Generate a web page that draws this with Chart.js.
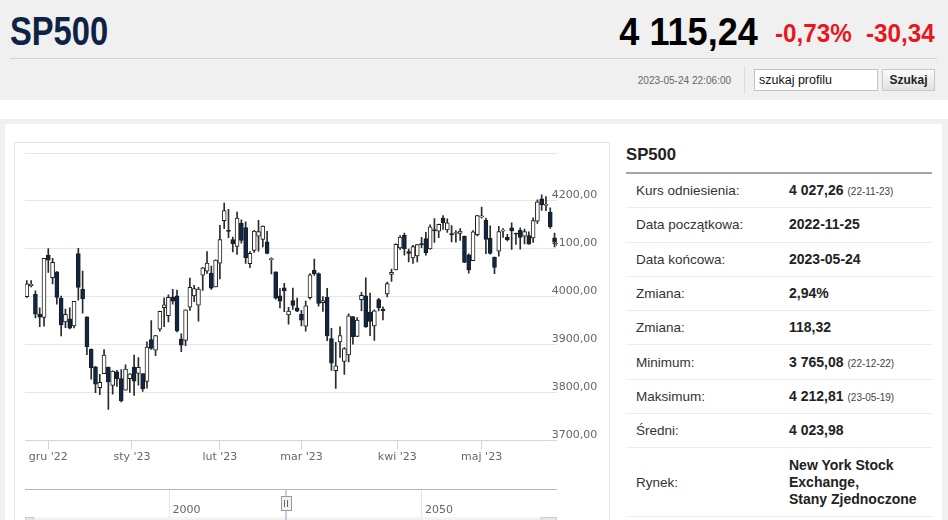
<!DOCTYPE html>
<html lang="pl">
<head>
<meta charset="utf-8">
<title>SP500</title>
<script src="https://cdn.jsdelivr.net/npm/chart.js@4.4.0/dist/chart.umd.min.js"></script>
<style>
  html, body { margin: 0; padding: 0; }
  body { width: 948px; height: 520px; overflow: hidden; position: relative; background: #fff;
         font-family: "Liberation Sans", Arial, sans-serif; }
  .abs { position: absolute; white-space: nowrap; }
  #top { left: 0; top: 0; width: 948px; height: 100px; background: #f0f0f0; }
  #name { left: 10px; top: 11px; font: bold 40px/40px "Liberation Sans", sans-serif; color: #0e2244;
          transform: scaleX(0.817); transform-origin: left center; }
  #last { right: 190px; top: 13px; font: bold 38px/38px "Liberation Sans", sans-serif; color: #000;
          transform: scaleX(0.95); transform-origin: right center; }
  .chg { top: 21px; font: bold 25px/25px "Liberation Sans", sans-serif; color: #e8171f;
         transform: scaleX(0.97); transform-origin: left center; }
  #hr { left: 10px; top: 58px; width: 927px; height: 1px; background: #d2d2d2; }
  #stamp { right: 217px; top: 74px; font: 11px/12px "Liberation Sans", sans-serif; color: #666;
           transform: scaleX(0.915); transform-origin: right center; }
  #vsep { left: 744px; top: 66px; width: 1px; height: 28px; background: #dadada; }
  #search { left: 754px; top: 69px; width: 124px; height: 22px; box-sizing: border-box; background: #fff;
            border: 1px solid #c4c4c4; font: 12.5px/20px "Liberation Sans", sans-serif; color: #111; padding-left: 4px; }
  #btn { left: 882px; top: 69px; width: 53px; height: 22px; box-sizing: border-box; border: 1px solid #c8c8c8;
         background: linear-gradient(#fbfbfb, #e2e2e2); font: bold 12px/20px "Liberation Sans", sans-serif;
         color: #222; text-align: center; }
  #frame { left: 0; top: 119px; width: 948px; height: 401px; background: #f0f0f0; }
  #panel { left: 5px; top: 124px; width: 937px; height: 396px; background: #fff; }
  #box { left: 14px; top: 142px; width: 596px; height: 390px; box-sizing: border-box; border: 1px solid #e4e4e4; }
  #c { position: absolute; left: 15px; top: 143px; }
  #info { left: 626px; top: 140px; width: 306px; }
  #info h2 { margin: 0; height: 32px; font: bold 16.7px/30px "Liberation Sans", sans-serif; color: #222;
             border-bottom: 2px solid #a4a4a4; }
  #info table { border-collapse: collapse; width: 306px; }
  #info td { height: 33.3px; padding: 0; border-bottom: 1px solid #ececec; vertical-align: middle; }
  #info td.k { width: 153px; padding-left: 10px; font: 13.5px "Liberation Sans", sans-serif; color: #333; }
  #info td.v { font: bold 14px "Liberation Sans", sans-serif; color: #222; line-height: 17px; }
  #info td.v small { font: normal 10px "Liberation Sans", sans-serif; color: #444; margin-left: 4px; }
  #info tr.tall td { height: 68px; }
</style>
</head>
<body>
<div id="top" class="abs"></div>
<div id="name" class="abs">SP500</div>
<div id="last" class="abs">4 115,24</div>
<div class="abs chg" style="left:775px">-0,73%</div>
<div class="abs chg" style="left:866px">-30,34</div>
<div id="hr" class="abs"></div>
<div id="stamp" class="abs">2023-05-24 22:06:00</div>
<div id="vsep" class="abs"></div>
<div id="search" class="abs">szukaj profilu</div>
<div id="btn" class="abs">Szukaj</div>

<div id="frame" class="abs"></div>
<div id="panel" class="abs"></div>
<div id="box" class="abs"></div>
<canvas id="c" width="595" height="377"></canvas>

<div id="info" class="abs">
  <h2>SP500</h2>
  <table>
    <tr><td class="k">Kurs odniesienia:</td><td class="v">4 027,26<small>(22-11-23)</small></td></tr>
    <tr><td class="k">Data początkowa:</td><td class="v">2022-11-25</td></tr>
    <tr><td class="k">Data końcowa:</td><td class="v">2023-05-24</td></tr>
    <tr><td class="k">Zmiana:</td><td class="v">2,94%</td></tr>
    <tr><td class="k">Zmiana:</td><td class="v">118,32</td></tr>
    <tr><td class="k">Minimum:</td><td class="v">3 765,08<small>(22-12-22)</small></td></tr>
    <tr><td class="k">Maksimum:</td><td class="v">4 212,81<small>(23-05-19)</small></td></tr>
    <tr><td class="k">Średni:</td><td class="v">4 023,98</td></tr>
    <tr class="tall"><td class="k">Rynek:</td><td class="v">New York Stock<br>Exchange,<br>Stany Zjednoczone</td></tr>
  </table>
</div>

<script>
// daily candles, SP500 (one session, 2022-12-07, is absent from the feed)
const dates = [
  '2022-11-23','2022-11-25','2022-11-28','2022-11-29','2022-11-30',
  '2022-12-01','2022-12-02','2022-12-05','2022-12-06','2022-12-08','2022-12-09',
  '2022-12-12','2022-12-13','2022-12-14','2022-12-15','2022-12-16',
  '2022-12-19','2022-12-20','2022-12-21','2022-12-22','2022-12-23',
  '2022-12-27','2022-12-28','2022-12-29','2022-12-30',
  '2023-01-03','2023-01-04','2023-01-05','2023-01-06',
  '2023-01-09','2023-01-10','2023-01-11','2023-01-12','2023-01-13',
  '2023-01-17','2023-01-18','2023-01-19','2023-01-20',
  '2023-01-23','2023-01-24','2023-01-25','2023-01-26','2023-01-27',
  '2023-01-30','2023-01-31','2023-02-01','2023-02-02','2023-02-03',
  '2023-02-06','2023-02-07','2023-02-08','2023-02-09','2023-02-10',
  '2023-02-13','2023-02-14','2023-02-15','2023-02-16','2023-02-17',
  '2023-02-21','2023-02-22','2023-02-23','2023-02-24',
  '2023-02-27','2023-02-28','2023-03-01','2023-03-02','2023-03-03',
  '2023-03-06','2023-03-07','2023-03-08','2023-03-09','2023-03-10',
  '2023-03-13','2023-03-14','2023-03-15','2023-03-16','2023-03-17',
  '2023-03-20','2023-03-21','2023-03-22','2023-03-23','2023-03-24',
  '2023-03-27','2023-03-28','2023-03-29','2023-03-30','2023-03-31',
  '2023-04-03','2023-04-04','2023-04-05','2023-04-06',
  '2023-04-10','2023-04-11','2023-04-12','2023-04-13','2023-04-14',
  '2023-04-17','2023-04-18','2023-04-19','2023-04-20','2023-04-21',
  '2023-04-24','2023-04-25','2023-04-26','2023-04-27','2023-04-28',
  '2023-05-01','2023-05-02','2023-05-03','2023-05-04','2023-05-05',
  '2023-05-08','2023-05-09','2023-05-10','2023-05-11','2023-05-12',
  '2023-05-15','2023-05-16','2023-05-17','2023-05-18','2023-05-19',
  '2023-05-22','2023-05-23','2023-05-24'
]
const opens = [
  4000.30,4023.34,4005.36,3964.19,3957.18,
  4087.14,4040.17,4052.02,3996.63,3947.79,3954.17,
  3939.29,4090.00,4015.54,3958.37,3890.91,
  3853.79,3810.47,3839.49,3853.26,3815.11,
  3843.34,3829.56,3805.45,3829.06,
  3853.29,3840.36,3839.74,3823.37,
  3910.82,3888.57,3932.35,3977.57,3960.60,
  3999.28,4002.25,3911.84,3909.04,
  3978.14,4001.74,3982.71,4045.00,4053.72,
  4049.27,4020.85,4070.07,4158.68,4136.69,
  4119.57,4105.35,4153.47,4144.25,4068.92,
  4096.62,4126.70,4119.50,4114.75,4077.39,
  4052.35,4001.83,4018.60,3962.00,
  3992.36,3977.19,3963.34,3938.68,3998.02,
  4055.15,4048.26,3987.55,3998.66,3912.77,
  3846.00,3906.00,3865.00,3878.93,3958.69,
  3917.47,3994.00,4002.04,3968.00,3939.21,
  3994.00,3974.13,4006.00,4046.74,4056.18,
  4102.20,4128.03,4094.50,4081.15,
  4085.20,4110.29,4121.72,4100.04,4140.11,
  4137.17,4164.26,4139.33,4130.48,4132.14,
  4132.07,4126.43,4087.78,4075.29,4129.63,
  4166.79,4160.00,4122.25,4082.61,4095.00,
  4136.98,4124.25,4143.74,4132.24,4138.54,
  4126.65,4127.95,4122.85,4157.68,4204.15,
  4190.78,4176.80,4123.00
]
const highs = [
  4033.78,4034.02,4012.27,3976.77,4080.11,
  4100.51,4080.48,4052.45,4001.51,3974.19,3977.02,
  3990.71,4100.96,4053.76,3958.37,3890.91,
  3854.86,3838.24,3889.82,3853.26,3845.80,
  3846.65,3848.32,3858.19,3839.85,
  3878.46,3873.16,3839.74,3906.19,
  3950.57,3919.83,3970.07,3997.76,4003.95,
  4015.39,4014.16,3922.94,3972.96,
  4039.31,4023.92,4019.55,4061.57,4094.21,
  4063.85,4077.16,4148.95,4195.44,4182.36,
  4124.63,4176.54,4160.67,4156.23,4094.36,
  4138.90,4159.77,4148.11,4136.54,4081.51,
  4052.35,4017.37,4028.30,3978.25,
  4018.05,3997.50,3971.73,3990.84,4048.29,
  4078.49,4050.00,4000.41,4017.81,3934.05,
  3905.05,3937.29,3894.26,3964.46,3958.91,
  3956.62,4009.08,4039.49,4007.66,3972.74,
  3996.84,3979.20,4030.59,4057.85,4110.75,
  4127.66,4133.13,4099.69,4107.32,
  4109.50,4124.26,4134.37,4150.26,4163.19,
  4151.72,4169.48,4162.57,4148.57,4138.02,
  4142.41,4126.43,4089.67,4138.24,4170.06,
  4186.92,4164.10,4148.30,4082.61,4147.02,
  4142.30,4130.35,4154.28,4132.80,4143.74,
  4141.25,4135.54,4164.67,4202.20,4212.81,
  4209.22,4185.68,4132.96
]
const lows = [
  3998.66,4020.76,3955.77,3937.65,3938.58,
  4050.87,4026.63,3984.49,3918.39,3935.83,3933.04,
  3935.30,3993.04,3965.65,3879.45,3827.91,
  3800.04,3795.62,3839.49,3765.08,3797.01,
  3813.22,3780.78,3805.45,3800.34,
  3794.33,3815.77,3802.42,3809.56,
  3890.42,3877.29,3928.54,3937.56,3947.67,
  3984.57,3926.59,3885.54,3897.86,
  3971.64,3989.79,3949.06,4013.29,4048.70,
  4015.55,4020.44,4037.20,4141.88,4123.36,
  4093.38,4088.39,4111.94,4069.67,4060.79,
  4092.67,4095.01,4103.98,4089.49,4047.95,
  3995.19,3976.90,3969.19,3943.08,
  3973.55,3968.98,3939.05,3928.16,3995.17,
  4044.61,3980.31,3969.76,3908.70,3846.32,
  3808.86,3873.63,3838.24,3864.11,3901.27,
  3916.89,3971.19,3936.17,3919.05,3909.16,
  3970.41,3951.53,3999.53,4032.10,4056.18,
  4098.79,4086.87,4072.56,4069.84,
  4072.55,4102.61,4086.94,4099.40,4113.20,
  4123.18,4140.36,4134.49,4114.57,4113.86,
  4117.77,4071.38,4049.35,4075.29,4127.18,
  4164.12,4089.72,4088.86,4048.28,4084.73,
  4123.81,4116.65,4098.92,4109.29,4099.12,
  4110.27,4109.86,4113.62,4153.14,4180.20,
  4179.68,4142.54,4103.98
]
const closes = [
  4027.26,4026.12,3963.94,3957.63,4080.11,
  4076.57,4071.70,3998.84,3941.26,3963.51,3934.38,
  3990.56,4019.65,3995.32,3895.75,3852.36,
  3817.66,3821.62,3878.44,3822.39,3844.82,
  3829.25,3783.22,3849.28,3839.50,
  3824.14,3852.97,3808.10,3895.08,
  3892.09,3919.25,3969.61,3983.17,3999.09,
  3990.97,3928.86,3898.85,3972.61,
  4019.81,4016.95,4016.22,4060.43,4070.56,
  4017.77,4076.60,4119.21,4179.76,4136.48,
  4111.08,4164.00,4117.86,4081.50,4090.46,
  4137.29,4136.13,4147.60,4090.41,4079.09,
  3997.34,3991.05,4012.32,3970.04,
  3982.24,3970.15,3951.39,3981.35,4045.64,
  4048.42,3986.37,3992.01,3918.32,3861.59,
  3855.76,3919.29,3891.93,3960.28,3916.64,
  3951.57,4002.87,3936.97,3948.72,3970.99,
  3977.53,3971.27,4027.81,4050.83,4109.31,
  4124.51,4100.60,4090.38,4105.02,
  4109.11,4108.94,4091.95,4146.22,4137.64,
  4151.32,4154.87,4154.52,4129.79,4133.52,
  4137.04,4071.63,4055.99,4135.35,4169.48,
  4167.87,4119.58,4090.75,4061.22,4136.25,
  4138.12,4119.17,4137.64,4130.62,4124.08,
  4136.28,4109.90,4158.77,4198.05,4191.98,
  4192.63,4145.58,4115.24
]

const monthStarts = ['2022-12-01', '2023-01-01', '2023-02-01', '2023-03-01', '2023-04-01', '2023-05-01']
const monthLabels = ["gru '22", "sty '23", "lut '23", "mar '23", "kwi '23", "maj '23"]
const priceTicks = [3700, 3800, 3900, 4000, 4100, 4200, 4300]
const navLabels = ['2000', '2050']

// ordinal axis: a calendar date falls between two sessions
function dateIndex (d) {
  const t = Date.parse(d)
  for (let i = 0; i < dates.length - 1; i++) {
    const a = Date.parse(dates[i])
    const b = Date.parse(dates[i + 1])
    if (t >= a && t < b) return i + (t - a) / (b - a)
  }
  return dates.length - 1
}
const monthPos = monthStarts.map(dateIndex)

const wicks = dates.map((d, i) => ({ x: i, y: [lows[i], highs[i]] }))
const bodies = dates.map((d, i) => ({ x: i, y: [opens[i], closes[i]] }))
const bodyColors = dates.map((d, i) => (closes[i] >= opens[i] ? '#ffffff' : '#0c2748'))

const fmtPrice = v => v.toFixed(2).replace('.', ',')

// price labels sit just left of the right edge, under the candles
const priceLabels = {
  id: 'priceLabels',
  beforeDatasetsDraw (chart) {
    const { ctx, chartArea: a, scales: { y } } = chart
    ctx.save()
    ctx.fillStyle = '#666'
    ctx.font = '11px "DejaVu Sans"'
    ctx.textAlign = 'left'
    ctx.textBaseline = 'middle'
    priceTicks.slice(0, -1).forEach(v => {
      ctx.fillText(fmtPrice(v), a.right - 5, y.getPixelForValue(v) - 5.5)
    })
    ctx.restore()
  }
}

// navigator strip under the axis (decoration only)
const navigator = {
  id: 'navigator',
  afterDraw (chart) {
    const { ctx, chartArea: a } = chart
    const y0 = 346.5
    ctx.save()
    ctx.lineWidth = 1
    ctx.strokeStyle = '#e6e6e6'
    ;[154.5, 406.5].forEach(x => {
      ctx.beginPath(); ctx.moveTo(x, y0); ctx.lineTo(x, 377); ctx.stroke()
    })
    ctx.fillStyle = '#666'
    ctx.font = '11px "DejaVu Sans"'
    ctx.textBaseline = 'middle'
    ctx.fillText(navLabels[0], 157.5, 367)
    ctx.fillText(navLabels[1], 410, 367)
    ctx.strokeStyle = '#b3b3b3'
    ctx.beginPath(); ctx.moveTo(a.left, y0); ctx.lineTo(a.right, y0); ctx.stroke()
    // scrollbar
    ctx.fillStyle = '#f2f2f2'
    ctx.fillRect(a.left, 374.5, a.right - a.left, 3)
    ctx.strokeStyle = '#cccccc'
    ctx.fillStyle = '#ebe7e8'
    ctx.fillRect(a.left, 374.5, 8, 3); ctx.strokeRect(a.left + 0.5, 374.5, 8, 4)
    ctx.fillRect(a.right - 15, 374.5, 15, 3); ctx.strokeRect(a.right - 15.5, 374.5, 15, 4)
    // range edge + handle
    ctx.strokeStyle = '#c6cedb'
    ctx.lineWidth = 2
    ctx.beginPath(); ctx.moveTo(271, y0); ctx.lineTo(271, 377); ctx.stroke()
    ctx.lineWidth = 1
    ctx.fillStyle = '#f2f2f2'
    ctx.strokeStyle = '#999'
    ctx.fillRect(266, 353, 10, 14)
    ctx.strokeRect(266.5, 353.5, 10, 14)
    ctx.strokeStyle = '#666'
    ctx.beginPath()
    ctx.moveTo(269.5, 357); ctx.lineTo(269.5, 364)
    ctx.moveTo(272.5, 357); ctx.lineTo(272.5, 364)
    ctx.stroke()
    ctx.restore()
  }
}

Chart.defaults.font.family = '"DejaVu Sans", sans-serif'
Chart.defaults.font.size = 11
Chart.defaults.color = '#666666'

const chart = new Chart(document.getElementById('c'), {
  type: 'bar',
  data: {
    datasets: [
      {
        label: 'SP500',
        data: bodies,
        order: 0,
        grouped: false,
        barThickness: 4,
        minBarLength: 1,
        borderWidth: 1,
        borderSkipped: false,
        borderColor: '#1c1c1c',
        backgroundColor: bodyColors
      },
      {
        label: 'SP500 high-low',
        data: wicks,
        order: 1,
        grouped: false,
        barThickness: 1,
        borderWidth: 0,
        backgroundColor: '#2b2b2b'
      }
    ]
  },
  options: {
    responsive: false,
    animation: false,
    events: [],
    layout: { padding: { left: 10, top: 10, right: 0, bottom: 0 } },
    plugins: { legend: { display: false }, tooltip: { enabled: false } },
    scales: {
      x: {
        type: 'linear',
        min: -0.43,
        max: 123.5,
        offset: false,
        grid: { offset: false, drawOnChartArea: false, drawTicks: true, tickLength: 9, color: '#ccd6eb' },
        border: { color: '#ccd6eb' },
        ticks: {
          autoSkip: false,
          maxRotation: 0,
          padding: 1,
          callback: (v, i) => monthLabels[i]
        },
        afterBuildTicks: s => { s.ticks = monthPos.map(v => ({ value: v })) },
        afterFit: s => { s.height = 79.4 }
      },
      y: {
        position: 'right',
        min: priceTicks[0],
        max: priceTicks[priceTicks.length - 1],
        beginAtZero: false,
        grid: { color: '#e6e6e6', drawTicks: false },
        border: { display: false },
        ticks: { display: false },
        afterBuildTicks: s => { s.ticks = priceTicks.map(v => ({ value: v })) },
        afterFit: s => { s.width = 53.3 }
      }
    }
  },
  plugins: [priceLabels, navigator]
})
</script>
</body>
</html>
